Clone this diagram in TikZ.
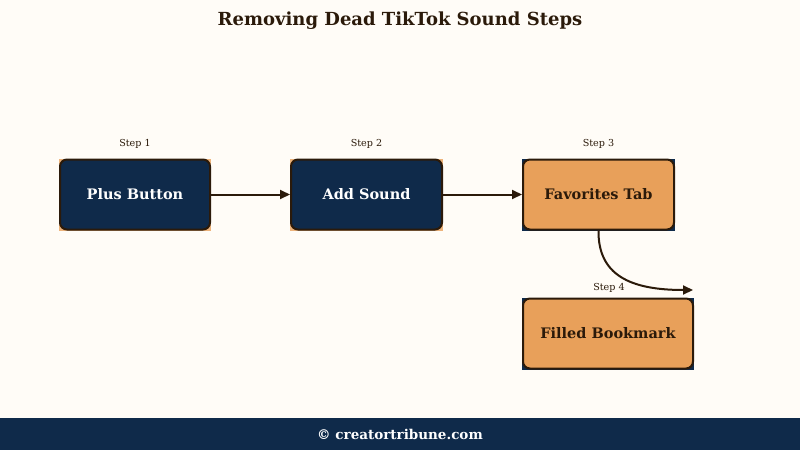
\documentclass[tikz,border=0pt]{standalone}
\usepackage{fontspec}
\setmainfont{DejaVu Serif}
\usetikzlibrary{arrows.meta}
\definecolor{bg}{HTML}{FFFCF7}
\definecolor{navy}{HTML}{0F2A4A}
\definecolor{org}{HTML}{E8A05A}
\definecolor{ink}{HTML}{2B1A0A}
\tikzset{
 dk/.style={draw=ink,line width=2pt,rounded corners=7pt,fill=navy,text=white,font=\bfseries\fontsize{14.5}{17}\selectfont,minimum height=70pt,inner sep=0pt},
 lt/.style={draw=ink,line width=2pt,rounded corners=7pt,fill=org,text=ink,font=\bfseries\fontsize{14.5}{17}\selectfont,minimum height=70pt,inner sep=0pt},
 steplbl/.style={font=\fontsize{9.6}{11}\selectfont,text=ink},
 arr/.style={draw=ink,line width=2pt,-{Triangle[length=10pt,width=9pt]}}
}
\begin{document}
\begin{tikzpicture}[x=1pt,y=-1pt]
\fill[bg] (0,0) rectangle (800,450);
\useasboundingbox (0,0) rectangle (800,450);
\fill[navy] (0,418) rectangle (800,450);
\node[font=\bfseries\fontsize{13.5}{16}\selectfont,text=white] (foot) at (400,434) {© creatortribune.com};
\node[font=\bfseries\fontsize{18}{21}\selectfont,text=ink] (title) at (400,21) {Removing Dead TikTok Sound Steps};
\fill[org!80!white] (59,158.5) rectangle (211,230.5);
\fill[org!80!white] (290,158.5) rectangle (443,230.5);
\fill[navy] (522,158.5) rectangle (675,230.5);
\fill[navy] (522,297.5) rectangle (694,369.5);
\node[dk,minimum width=150pt] (b1) at (135,194.5) {Plus Button};
\node[dk,minimum width=151pt] (b2) at (366.5,194.5) {Add Sound};
\node[lt,minimum width=151pt] (b3) at (598.5,194.5) {Favorites Tab};
\node[lt,minimum width=170pt] (b4) at (608,333.5) {Filled Bookmark};
\node[steplbl] (s1) at (135,144) {Step 1};
\node[steplbl] (s2) at (366.5,144) {Step 2};
\node[steplbl] (s3) at (598.5,144) {Step 3};
\node[steplbl] (s4) at (609,288) {Step 4};
\coordinate (e4) at (693,290);
\draw[arr] (b1) -- (b2);
\draw[arr] (b2) -- (b3);
\draw[arr] (b3.south) .. controls (598,275) and (630,290) .. (e4);
\end{tikzpicture}
\end{document}
